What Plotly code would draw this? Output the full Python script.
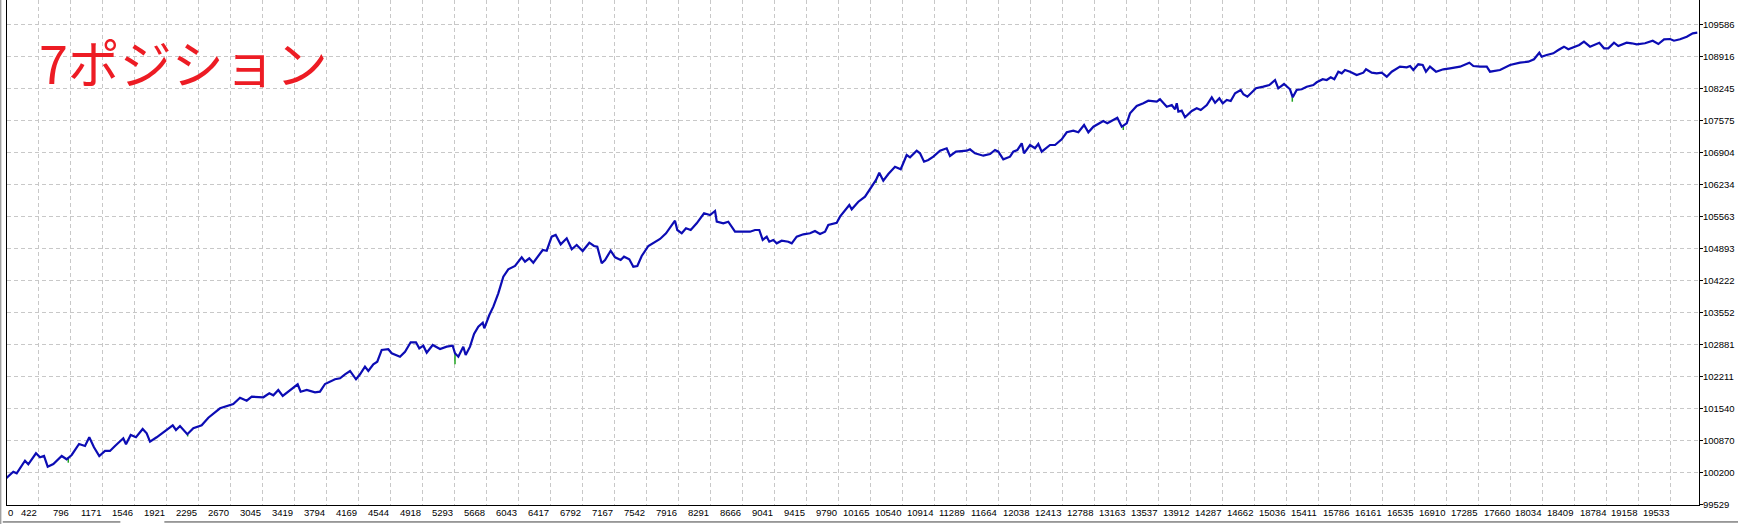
import plotly.graph_objects as go

# balance curve (trade number, account balance)
trades = [0, 129, 169, 266, 305, 395, 442, 489, 532, 598, 696, 754, 813, 899, 969, 1019, 1074, 1136, 1203, 1261,
          1320, 1417, 1449, 1504, 1566, 1644, 1691, 1730, 1808, 1925, 1996, 2034, 2081, 2167, 2237, 2335, 2413, 2550,
          2705, 2784, 2862, 2921, 3057, 3127, 3174, 3232, 3284, 3459, 3494, 3565, 3662, 3720, 3779, 3896, 3955, 4013,
          4072, 4142, 4189, 4247, 4286, 4345, 4391, 4443, 4520, 4560, 4657, 4716, 4782, 4844, 4883, 4930, 4970, 5040,
          5126, 5204, 5274, 5301, 5340, 5398, 5426, 5477, 5524, 5574, 5626, 5644, 5703, 5750, 5808, 5867, 5925, 6004,
          6082, 6121, 6171, 6218, 6328, 6375, 6433, 6480, 6539, 6609, 6668, 6726, 6796, 6874, 6929, 6967, 7019, 7058,
          7124, 7175, 7241, 7280, 7342, 7389, 7436, 7487, 7565, 7702, 7772, 7877, 7904, 7956, 8006, 8061, 8131, 8217,
          8287, 8346, 8366, 8443, 8501, 8580, 8658, 8755, 8814, 8864, 8904, 8951, 8981, 9028, 9068, 9126, 9204, 9244,
          9302, 9380, 9458, 9516, 9575, 9634, 9672, 9771, 9809, 9868, 9918, 9946, 10024, 10102, 10160, 10231, 10269,
          10316, 10375, 10453, 10520, 10590, 10629, 10707, 10746, 10793, 10843, 10902, 10980, 11058, 11097, 11167,
          11293, 11331, 11390, 11487, 11566, 11624, 11663, 11721, 11800, 11838, 11885, 11937, 11964, 12034, 12092,
          12131, 12171, 12268, 12327, 12405, 12464, 12541, 12600, 12667, 12717, 12776, 12892, 12939, 12971, 13056,
          13108, 13166, 13205, 13283, 13361, 13419, 13518, 13556, 13635, 13694, 13732, 13752, 13771, 13810, 13849,
          13928, 13986, 14033, 14104, 14162, 14201, 14251, 14291, 14338, 14384, 14435, 14501, 14532, 14579, 14618,
          14680, 14766, 14836, 14903, 14941, 15008, 15078, 15110, 15156, 15215, 15274, 15351, 15391, 15461, 15508,
          15555, 15597, 15644, 15684, 15722, 15781, 15859, 15937, 15968, 16035, 16093, 16152, 16211, 16269, 16366,
          16445, 16484, 16522, 16580, 16632, 16670, 16717, 16788, 16873, 16952, 17069, 17178, 17225, 17303, 17382,
          17420, 17537, 17654, 17771, 17869, 17935, 17997, 18025, 18084, 18161, 18220, 18286, 18337, 18395, 18465,
          18520, 18591, 18700, 18755, 18805, 18872, 18922, 19020, 19079, 19138, 19235, 19325, 19391, 19458, 19528,
          19574, 19645, 19724, 19794, 19847]

balance = [100000, 100212, 100178, 100442, 100367, 100598, 100514, 100541, 100317, 100373, 100541, 100472, 100562,
           100792, 100750, 100933, 100723, 100541, 100646, 100646, 100750, 100912, 100786, 100981, 100933, 101107,
           101017, 100841, 100933, 101086, 101184, 101086, 101169, 100996, 101121, 101184, 101343, 101540, 101630,
           101762, 101700, 101783, 101771, 101855, 101813, 101924, 101798, 102043, 101888, 101924, 101876, 101888,
           102049, 102148, 102169, 102253, 102322, 102148, 102253, 102412, 102322, 102462, 102517, 102762, 102777,
           102693, 102621, 102726, 102923, 102923, 102797, 102852, 102705, 102867, 102783, 102831, 102852, 102693,
           102621, 102831, 102657, 102831, 103097, 103250, 103334, 103216, 103495, 103669, 103950, 104298, 104453,
           104522, 104704, 104612, 104683, 104591, 104857, 104842, 105136, 105171, 104976, 105102, 104872, 104962,
           104836, 105010, 104941, 104926, 104578, 104648, 104842, 104704, 104648, 104717, 104662, 104507, 104522,
           104731, 104941, 105088, 105207, 105471, 105276, 105207, 105312, 105276, 105416, 105626, 105590, 105674,
           105450, 105416, 105450, 105240, 105240, 105240, 105276, 105276, 105067, 105136, 105031, 105067, 104997,
           105052, 105031, 104997, 105136, 105186, 105207, 105255, 105192, 105240, 105381, 105429, 105555, 105695,
           105800, 105710, 105869, 105974, 106129, 106324, 106477, 106309, 106449, 106602, 106548, 106847, 106799,
           106938, 106883, 106707, 106743, 106812, 106938, 106988, 106827, 106917, 106938, 106967, 106883, 106833,
           106868, 106952, 106917, 106757, 106812, 106917, 106952, 107093, 106883, 107057, 106988, 107078, 106917,
           107057, 107057, 107176, 107323, 107357, 107323, 107476, 107323, 107440, 107560, 107512, 107545, 107629,
           107440, 107512, 107721, 107874, 107931, 107985, 107964, 108015, 107859, 107895, 107805, 107931, 107755,
           107776, 107637, 107769, 107826, 107790, 107895, 108056, 107943, 108035, 107931, 108000, 107979, 108140,
           108209, 108119, 108069, 108140, 108245, 108279, 108314, 108419, 108245, 108335, 108224, 108056, 108209,
           108224, 108279, 108314, 108371, 108434, 108419, 108475, 108434, 108593, 108559, 108628, 108593, 108524,
           108572, 108643, 108572, 108559, 108572, 108488, 108593, 108698, 108685, 108712, 108628, 108748, 108733,
           108593, 108698, 108593, 108643, 108664, 108698, 108781, 108712, 108698, 108698, 108593, 108628, 108733,
           108781, 108802, 108853, 108991, 108907, 108943, 108978, 109047, 109117, 109062, 109096, 109152, 109221,
           109117, 109200, 109083, 109083, 109200, 109131, 109200, 109188, 109167, 109188, 109242, 109173, 109272,
           109278, 109242, 109272, 109326, 109397, 109410]

assert len(trades) == len(balance)

# equity drawdown spikes (green): trade, balance at that trade, equity low
spike_trades = [773, 2171, 5301, 10231, 13126, 15105]
spike_tops = [100520, 100996, 102693, 106324, 107470, 108056]
spike_lows = [100401, 100950, 102462, 106260, 107371, 107964]

x_ticks = [422, 796, 1171, 1546, 1921, 2295, 2670, 3045, 3419, 3794, 4169, 4544, 4918, 5293, 5668, 6043, 6417,
           6792, 7167, 7542, 7916, 8291, 8666, 9041, 9415, 9790, 10165, 10540, 10914, 11289, 11664, 12038, 12413,
           12788, 13163, 13537, 13912, 14287, 14662, 15036, 15411, 15786, 16161, 16535, 16910, 17285, 17660, 18034,
           18409, 18784, 19158, 19533]
y_ticks = [99529, 100200, 100870, 101540, 102211, 102881, 103552, 104222, 104893, 105563, 106234, 106904, 107575,
           108245, 108916, 109586]

spike_x, spike_y = [], []
for t, top, low in zip(spike_trades, spike_tops, spike_lows):
    spike_x += [t, t, None]
    spike_y += [top, low, None]

tick_font = dict(family="Liberation Sans", size=9.5, color="black")
grid = dict(showgrid=True, gridcolor="#C8C8C8", gridwidth=1, griddash="4px,3px", zeroline=False)

fig = go.Figure()
fig.add_trace(go.Scatter(x=spike_x, y=spike_y, mode="lines", line=dict(color="#1FA31F", width=1.5),
                         hoverinfo="skip"))
fig.add_trace(go.Scatter(x=trades, y=balance, mode="lines", line=dict(color="#0C0CB4", width=2.2),
                         name="balance"))

fig.update_layout(
    width=1738, height=524,
    margin=dict(l=7, r=39, t=0, b=19, autoexpand=False),
    paper_bgcolor="white", plot_bgcolor="white",
    showlegend=False,
    xaxis=dict(range=[55.5, 19867], tickvals=x_ticks, showticklabels=False, ticks="", showline=True,
               linecolor="black", linewidth=1, automargin=False, **grid),
    yaxis=dict(range=[99514, 110095], tickvals=y_ticks, ticktext=[str(v) for v in y_ticks],
               side="right", ticks="outside", ticklen=3, tickcolor="black", showline=True, mirror=True,
               linecolor="black", linewidth=1, tickfont=tick_font, automargin=False,
               ticklabelstandoff=-2, **grid),
)

# MT4 style x labels: text ends at its grid line
for v in x_ticks:
    fig.add_annotation(text=str(v), x=v, xref="x", y=0, yref="paper", xanchor="right", yanchor="top",
                       xshift=0, yshift=-1, showarrow=False, font=tick_font, borderpad=0)
fig.add_annotation(text="0", x=0, y=0, xref="paper", yref="paper", xanchor="left", yanchor="top",
                   xshift=0, yshift=-1, showarrow=False, font=tick_font, borderpad=0)

fig.add_annotation(text="7ポジション", x=0, y=1, xref="paper", yref="paper", xanchor="left", yanchor="top",
                   xshift=30, yshift=-22, showarrow=False,
                   font=dict(family="Noto Sans CJK JP", size=52, color="#ED1C24"))

# window frame bits: grey left border and the strip line below the labels
fig.add_shape(type="line", xref="paper", yref="paper", x0=-0.0039, x1=-0.0039, y0=-0.04, y1=1,
              line=dict(color="#A0A0A0", width=2))
fig.add_shape(type="line", xref="paper", yref="paper", x0=-0.0025, x1=0.067, y0=-0.0336, y1=-0.0336,
              line=dict(color="#404040", width=1))
fig.add_shape(type="line", xref="paper", yref="paper", x0=0.093, x1=1.025, y0=-0.0336, y1=-0.0336,
              line=dict(color="#404040", width=1))

# the page body has a default 8px margin; drop it so the chart fills the window like the original
fig.write_html("out.html", config={"displayModeBar": False},
               post_script="document.body.style.margin='0';")
